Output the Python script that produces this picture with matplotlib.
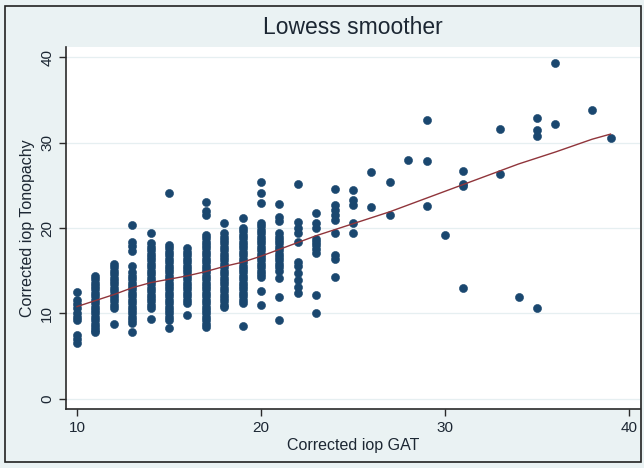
import matplotlib
matplotlib.use("Agg")
import matplotlib.pyplot as plt
from matplotlib.patches import Rectangle

plt.rcParams['font.family'] = ['Liberation Sans', 'DejaVu Sans']

# Corrected IOP readings: GAT (x) against Tonopachy (y), grouped by GAT value
gat_groups = {
    10: [12.5, 11.6, 11.1, 10.6, 10.1, 9.6, 9.2, 7.5, 7.0, 6.5],
    11: [14.4, 14.0, 13.6, 13.2, 12.8, 12.4, 12.0, 11.6, 11.2, 10.8, 10.4,
         10.0, 9.6, 9.2, 8.8, 8.4, 8.0, 7.8],
    12: [15.8, 15.4, 15.0, 14.6, 14.2, 13.8, 13.4, 13.0, 12.6, 12.2, 11.8,
         11.4, 11.0, 10.6, 8.7],
    13: [20.4, 18.4, 17.9, 17.3, 15.6, 14.8, 14.4, 14.0, 13.6, 13.2, 12.8,
         12.4, 12.0, 11.6, 11.2, 10.8, 10.4, 10.0, 9.6, 9.2, 8.9, 7.8],
    14: [19.4, 18.2, 17.8, 17.4, 17.0, 16.6, 16.2, 15.8, 15.4, 15.0, 14.6,
         14.2, 13.8, 13.4, 13.0, 12.6, 12.2, 11.8, 11.4, 11.0, 10.6, 9.4],
    15: [24.1, 18.0, 17.6, 17.2, 16.8, 16.4, 16.0, 15.6, 15.2, 14.8, 14.4,
         14.0, 13.6, 13.2, 12.8, 12.4, 12.0, 11.6, 11.2, 10.8, 10.4, 10.0,
         9.6, 9.2, 8.3],
    16: [17.6, 17.2, 16.8, 16.4, 16.0, 15.6, 15.2, 14.8, 14.4, 14.0, 13.6,
         13.2, 12.8, 12.4, 12.0, 11.6, 11.2, 9.8],
    17: [23.0, 22.0, 21.5, 19.2, 18.8, 18.4, 18.0, 17.6, 17.2, 16.8, 16.4,
         16.0, 15.6, 15.2, 14.8, 14.4, 14.0, 13.6, 13.2, 12.8, 12.4, 12.0,
         11.6, 11.2, 10.8, 10.4, 10.0, 9.6, 9.2, 8.8, 8.4],
    18: [20.6, 19.4, 19.0, 18.6, 18.2, 17.8, 17.4, 17.0, 16.6, 16.2, 15.8,
         15.4, 15.0, 14.6, 14.2, 13.8, 13.4, 13.0, 12.6, 12.2, 11.8, 11.4,
         11.0, 10.8],
    19: [21.2, 20.0, 19.6, 19.2, 18.8, 18.4, 18.0, 17.6, 17.2, 16.8, 16.4,
         16.0, 15.6, 15.2, 14.8, 14.4, 14.0, 13.6, 13.2, 12.8, 12.4, 12.0,
         11.6, 11.2, 8.5],
    20: [25.4, 24.1, 22.9, 20.6, 20.2, 19.8, 19.4, 19.0, 18.6, 18.2, 17.8,
         17.4, 17.0, 16.6, 16.2, 15.8, 15.4, 15.0, 14.6, 14.3, 12.6, 11.0],
    21: [22.8, 21.3, 20.8, 19.4, 19.0, 18.6, 18.2, 17.8, 17.4, 17.0, 16.6,
         16.2, 15.8, 15.4, 15.0, 14.1, 11.9, 9.2],
    22: [25.1, 20.7, 20.0, 19.4, 18.4, 16.0, 15.6, 14.7, 13.9, 13.1, 12.4],
    23: [21.8, 20.6, 20.0, 18.7, 18.4, 18.0, 17.5, 17.1, 12.2, 10.0],
    24: [24.6, 22.7, 22.1, 21.5, 20.9, 19.4, 16.8, 16.4, 14.3],
    25: [24.5, 23.3, 22.7, 20.6, 19.4],
    26: [26.6, 22.5],
    27: [25.4, 21.5],
    28: [28.0],
    29: [32.7, 27.8, 22.6],
    30: [19.2],
    31: [26.7, 25.2, 24.9, 13.0],
    33: [31.6, 26.3],
    34: [11.9],
    35: [32.9, 31.5, 30.8, 10.6],
    36: [39.3, 32.2],
    38: [33.8],
    39: [30.5],
}

# Lowess smoothed Tonopachy values at each GAT value
lowess_x = [10, 11, 12, 13, 14, 15, 16, 17, 18, 19, 20, 21, 22, 23, 24, 25,
            26, 27, 28, 29, 30, 31, 33, 34, 35, 36, 38, 39]
lowess_y = [10.8, 11.5, 12.2, 13.0, 13.6, 14.0, 14.4, 14.9, 15.5, 16.0, 16.7,
            17.5, 18.3, 19.1, 19.8, 20.5, 21.2, 21.9, 22.7, 23.5, 24.3, 25.1,
            26.7, 27.5, 28.2, 28.9, 30.4, 31.0]

x_ticks = [10, 20, 30, 40]
y_ticks = [0, 10, 20, 30, 40]

gat = [g for g, vals in gat_groups.items() for _ in vals]
tono = [v for vals in gat_groups.values() for v in vals]

BG = '#eaf2f3'
NAVY = '#1a476f'
MAROON = '#90353b'
TEXT = '#1c2733'

fig = plt.figure(figsize=(6.44, 4.68), dpi=100, facecolor=BG)
ax = fig.add_axes([66 / 644, 59 / 468, 574 / 644, 362 / 468])
ax.set_facecolor('white')

ax.scatter(gat, tono, s=34, color=NAVY, edgecolors=NAVY, linewidths=0.4,
           zorder=3)
ax.plot(lowess_x, lowess_y, color=MAROON, lw=1.0, zorder=4)

ax.set_xlim(9.4, 40.6)
ax.set_ylim(-1.2, 41.2)
ax.set_xticks(x_ticks)
ax.set_yticks(y_ticks)
ax.grid(axis='y', color='#e6eff1', lw=0.9, zorder=0)
ax.set_axisbelow(True)

for side in ('top', 'right'):
    ax.spines[side].set_visible(False)
for side in ('left', 'bottom'):
    ax.spines[side].set_color('#2a2a2a')
    ax.spines[side].set_linewidth(1.2)

ax.tick_params(axis='both', direction='out', length=5, width=1.0,
               color='#2a2a2a', labelcolor=TEXT, labelsize=11)
for lbl in ax.get_yticklabels():
    lbl.set_rotation(90)
    lbl.set_va('center')

ax.set_xlabel('Corrected iop GAT', fontsize=11.5, color=TEXT, labelpad=2)
ax.set_ylabel('Corrected iop Tonopachy', fontsize=11.5, color=TEXT,
              labelpad=4)
fig.text(0.548, 1 - 27 / 468, 'Lowess smoother', ha='center', va='center',
         fontsize=16.5, color=TEXT)

# outer frame around the graph region
fig.patches.append(Rectangle((5 / 644, 6 / 468), 636 / 644, 456 / 468,
                             transform=fig.transFigure, fill=False,
                             edgecolor='#222222', lw=1.2))

fig.savefig('out.png', dpi=100, facecolor=BG)
